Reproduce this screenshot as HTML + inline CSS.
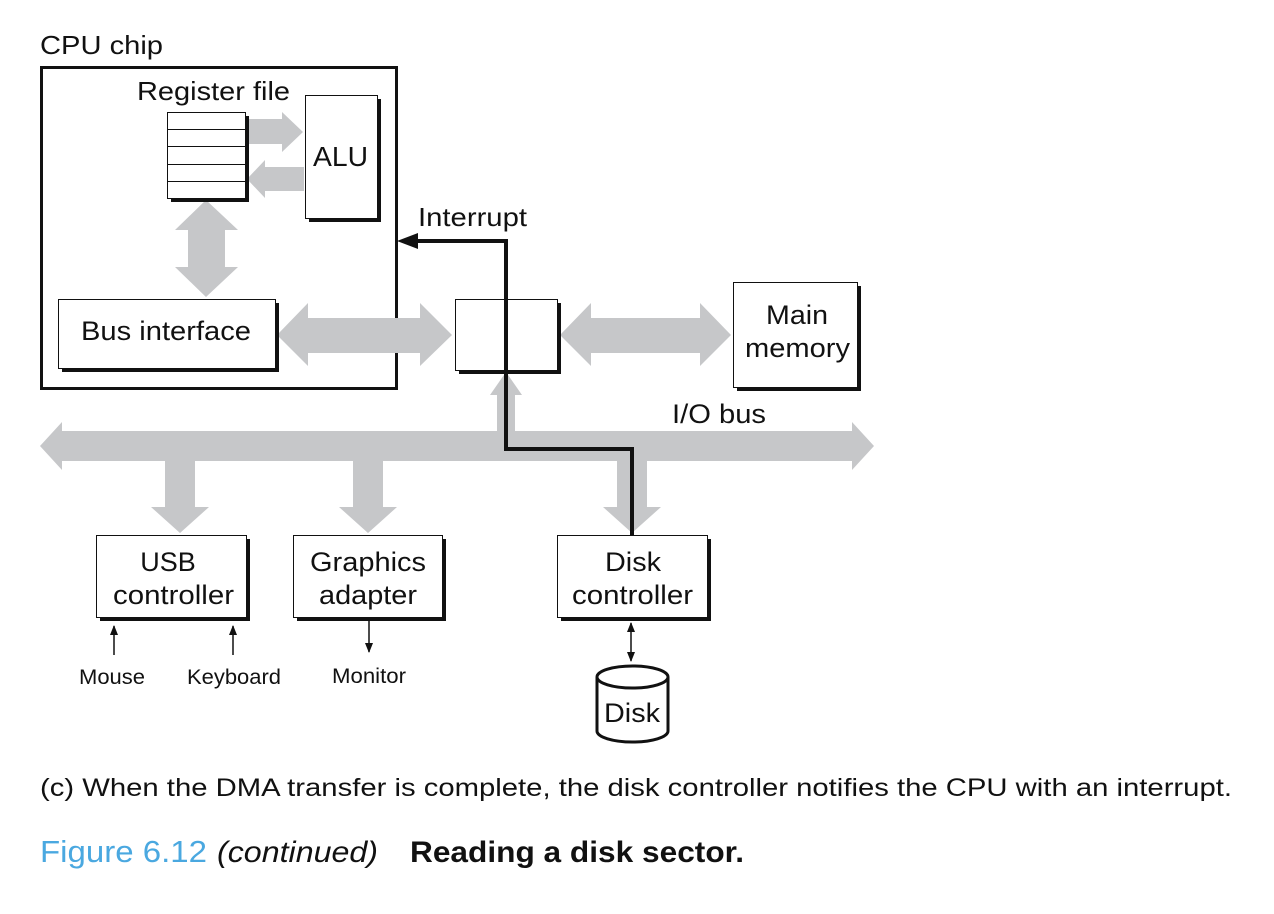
<!DOCTYPE html>
<html><head><meta charset="utf-8"><style>
html,body{margin:0;padding:0;background:#fff;}
svg{display:block;}
text{font-family:"Liberation Sans",Arial,sans-serif;fill:#111;}
</style></head><body>
<svg width="1274" height="914" viewBox="0 0 1274 914" xmlns="http://www.w3.org/2000/svg">
<defs>
<marker id="ah" markerWidth="10" markerHeight="10" refX="9" refY="5" orient="auto" markerUnits="userSpaceOnUse"><path d="M0,1 L10,5 L0,9 z" fill="#111"/></marker>
</defs>
<text x="40" y="54" font-size="26" textLength="123" lengthAdjust="spacingAndGlyphs">CPU chip</text>
<rect x="41.5" y="67.5" width="355" height="321" fill="none" stroke="#111" stroke-width="3"/>
<text x="137" y="100" font-size="26" textLength="153" lengthAdjust="spacingAndGlyphs">Register file</text>
<g fill="#c6c7c9">
<polygon points="249,119 282,119 282,112 303,132 282,152 282,144 249,144"/>
<polygon points="304,167 265,167 265,160 247,179 265,198 265,191 304,191"/>
<polygon points="206,200 238,230 225,230 225,267 238,267 206,297 175,267 188,267 188,230 175,230"/>
<polygon points="277,335 308,303 308,318 420,318 420,303 452,335 420,366 420,353 308,353 308,366"/>
<polygon points="560,335 591,303 591,318 700,318 700,303 731,335 700,366 700,353 591,353 591,366"/>
<polygon points="40,446 62,422 62,431 852,431 852,422 874,446 852,470 852,461 62,461 62,470"/>
<polygon points="497,431 497,395 490,395 506,372 522,395 515,395 515,431"/>
<polygon points="165,461 195,461 195,507 209,507 180,533 151,507 165,507"/>
<polygon points="353,461 383,461 383,507 397,507 368,533 339,507 353,507"/>
<polygon points="617,461 647,461 647,507 661,507 632,533 603,507 617,507"/>
</g>
<rect x="171" y="116" width="78" height="86" fill="#111"/>
<rect x="167.5" y="112.5" width="78" height="86" fill="#fff" stroke="#111" stroke-width="1"/>
<g stroke="#111" stroke-width="1"><line x1="167" y1="129.5" x2="245" y2="129.5"/><line x1="167" y1="146.5" x2="245" y2="146.5"/><line x1="167" y1="164.5" x2="245" y2="164.5"/><line x1="167" y1="181.5" x2="245" y2="181.5"/></g>
<rect x="309" y="99" width="72" height="123" fill="#111"/>
<rect x="305.5" y="95.5" width="72" height="123" fill="#fff" stroke="#111"/>
<text x="313" y="166" font-size="28" textLength="55" lengthAdjust="spacingAndGlyphs">ALU</text>
<rect x="62" y="303" width="217" height="69" fill="#111"/>
<rect x="58.5" y="299.5" width="217" height="69" fill="#fff" stroke="#111"/>
<text x="81" y="340" font-size="27" textLength="170" lengthAdjust="spacingAndGlyphs">Bus interface</text>
<rect x="459" y="303" width="102" height="71" fill="#111"/>
<rect x="455.5" y="299.5" width="102" height="71" fill="#fff" stroke="#111"/>
<rect x="737" y="286" width="124" height="105" fill="#111"/>
<rect x="733.5" y="282.5" width="124" height="105" fill="#fff" stroke="#111"/>
<text x="766" y="324" font-size="27" textLength="62" lengthAdjust="spacingAndGlyphs">Main</text>
<text x="745" y="357" font-size="27" textLength="105" lengthAdjust="spacingAndGlyphs">memory</text>
<text x="672" y="423" font-size="27" textLength="94" lengthAdjust="spacingAndGlyphs">I/O bus</text>
<rect x="100" y="539" width="150" height="82" fill="#111"/>
<rect x="96.5" y="535.5" width="150" height="82" fill="#fff" stroke="#111"/>
<text x="168" y="571" font-size="27" text-anchor="middle">USB</text>
<text x="113" y="604" font-size="27" textLength="121" lengthAdjust="spacingAndGlyphs">controller</text>
<rect x="297" y="539" width="149" height="82" fill="#111"/>
<rect x="293.5" y="535.5" width="149" height="82" fill="#fff" stroke="#111"/>
<text x="310" y="571" font-size="27" textLength="116" lengthAdjust="spacingAndGlyphs">Graphics</text>
<text x="319" y="604" font-size="27" textLength="98" lengthAdjust="spacingAndGlyphs">adapter</text>
<rect x="561" y="539" width="150" height="82" fill="#111"/>
<rect x="557.5" y="535.5" width="150" height="82" fill="#fff" stroke="#111"/>
<text x="605" y="571" font-size="27" textLength="56" lengthAdjust="spacingAndGlyphs">Disk</text>
<text x="572" y="604" font-size="27" textLength="121" lengthAdjust="spacingAndGlyphs">controller</text>
<polyline points="632,535 632,449 506,449 506,241 412,241" fill="none" stroke="#111" stroke-width="4"/>
<polygon points="397,241 418,233 418,249" fill="#111"/>
<text x="418" y="226" font-size="26" textLength="109" lengthAdjust="spacingAndGlyphs">Interrupt</text>
<g stroke="#111" stroke-width="1.5" fill="none">
<line x1="114" y1="655" x2="114" y2="626" marker-end="url(#ah)"/>
<line x1="233" y1="655" x2="233" y2="626" marker-end="url(#ah)"/>
<line x1="369" y1="621" x2="369" y2="652" marker-end="url(#ah)"/>
<line x1="631" y1="640" x2="631" y2="623" marker-end="url(#ah)"/>
<line x1="631" y1="640" x2="631" y2="661" marker-end="url(#ah)"/>
</g>
<text x="79" y="684" font-size="21" textLength="66" lengthAdjust="spacingAndGlyphs">Mouse</text>
<text x="187" y="684" font-size="21" textLength="94" lengthAdjust="spacingAndGlyphs">Keyboard</text>
<text x="332" y="683" font-size="21" textLength="74" lengthAdjust="spacingAndGlyphs">Monitor</text>
<path d="M597,677 L597,731 A35.5,11 0 0 0 668,731 L668,677" fill="#fff" stroke="#111" stroke-width="3"/>
<ellipse cx="632.5" cy="677" rx="35.5" ry="11" fill="#fff" stroke="#111" stroke-width="3"/>
<text x="604" y="722" font-size="27" textLength="56" lengthAdjust="spacingAndGlyphs">Disk</text>
<text x="40" y="796" font-size="25" textLength="1192" lengthAdjust="spacingAndGlyphs">(c) When the DMA transfer is complete, the disk controller notifies the CPU with an interrupt.</text>
<text x="40" y="862" font-size="31" style="fill:#4aa8e0" textLength="167" lengthAdjust="spacingAndGlyphs">Figure 6.12</text>
<text x="217" y="862" font-size="30" font-style="italic" textLength="161" lengthAdjust="spacingAndGlyphs">(continued)</text>
<text x="410" y="862" font-size="30" font-weight="bold" textLength="334" lengthAdjust="spacingAndGlyphs">Reading a disk sector.</text>
</svg>
</body></html>
